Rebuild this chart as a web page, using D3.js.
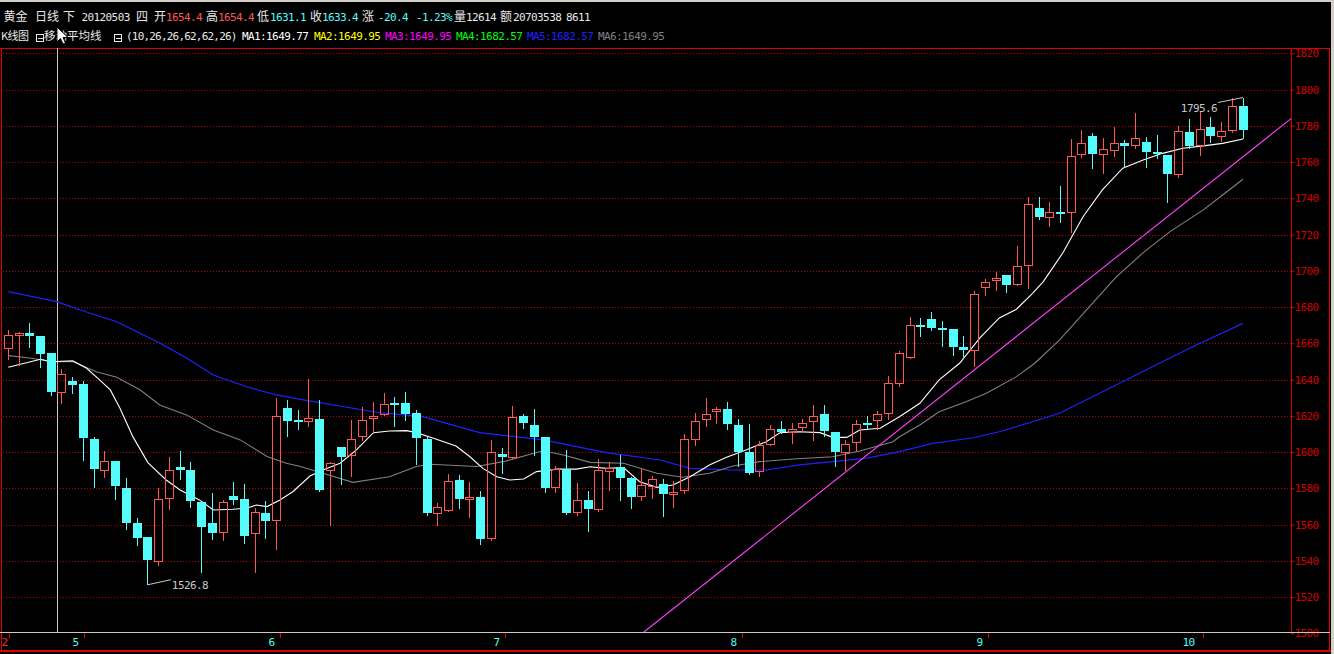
<!DOCTYPE html>
<html><head><meta charset="utf-8">
<script src="https://cdn.jsdelivr.net/npm/d3@7"></script>
<style>html,body{margin:0;padding:0;background:#000;overflow:hidden}</style>
</head><body>
<svg id="c" width="1334" height="654"></svg>
<script>
// ---------------- DATA ----------------
const opens  = [1657.6,1664.6,1665.7,1664.0,1654.4,1633.3,1639.2,1637.4,1607.0,1590.3,1594.9,1580.2,1560.7,1553.2,1539.7,1574.9,1591.8,1590.1,1572.5,1560.7,1555.9,1575.8,1573.9,1555.2,1566.2,1562.7,1624.3,1617.5,1616.9,1618.2,1590.0,1602.9,1598.3,1608.6,1618.7,1620.9,1627.0,1627.0,1621.3,1607.1,1566.1,1568.0,1584.7,1573.9,1575.0,1552.4,1598.9,1597.4,1620.0,1615.0,1608.4,1580.5,1590.6,1566.7,1573.5,1568.5,1589.3,1591.5,1585.6,1575.9,1581.4,1582.3,1576.8,1578.8,1607.1,1618.2,1622.4,1623.7,1615.0,1600.1,1589.3,1604.7,1612.6,1611.2,1613.6,1616.9,1620.9,1611.2,1599.8,1605.3,1616.0,1617.6,1621.5,1638.3,1652.2,1669.9,1673.4,1668.6,1667.9,1657.8,1656.3,1690.8,1694.9,1697.8,1692.7,1703.2,1734.4,1729.5,1732.2,1732.2,1764.4,1774.5,1764.7,1766.6,1770.4,1769.3,1771.2,1765.7,1764.0,1753.3,1776.7,1769.3,1779.1,1774.5,1777.6,1791.0];
const highs  = [1667.1,1666.2,1671.4,1664.0,1654.4,1645.6,1641.4,1639.2,1608.3,1600.6,1594.9,1585.5,1563.5,1553.2,1580.0,1597.3,1600.6,1594.5,1572.5,1577.4,1573.6,1583.5,1582.6,1569.3,1573.0,1630.0,1628.5,1623.0,1640.2,1628.6,1594.5,1602.9,1617.6,1624.6,1627.7,1632.5,1630.1,1633.2,1623.1,1608.1,1571.7,1587.8,1587.5,1583.2,1578.6,1606.8,1602.0,1625.5,1620.9,1624.0,1608.4,1592.4,1601.3,1582.9,1578.6,1596.1,1594.3,1598.5,1586.4,1591.1,1586.9,1585.1,1584.2,1610.1,1621.4,1629.6,1624.6,1627.7,1618.2,1615.4,1606.2,1614.9,1617.2,1616.0,1618.5,1625.9,1625.9,1611.2,1606.6,1617.6,1620.0,1622.8,1642.0,1656.0,1674.7,1673.8,1677.4,1672.5,1667.9,1664.2,1689.0,1695.4,1699.1,1697.8,1713.5,1740.8,1740.5,1737.7,1746.9,1772.6,1777.6,1776.3,1773.2,1779.4,1772.1,1787.0,1773.9,1775.0,1764.0,1780.0,1784.0,1788.3,1784.6,1782.2,1795.1,1795.6];
const lows   = [1650.8,1647.5,1657.6,1646.2,1631.1,1626.3,1632.2,1595.1,1580.4,1585.9,1573.4,1556.8,1548.2,1526.8,1537.2,1567.9,1584.6,1569.3,1533.5,1551.3,1550.9,1570.9,1549.4,1533.5,1552.2,1545.8,1608.5,1612.0,1613.6,1578.0,1559.3,1582.0,1586.4,1606.2,1609.9,1620.0,1613.9,1617.2,1592.8,1564.9,1559.3,1566.7,1568.5,1563.6,1548.7,1551.1,1587.8,1596.1,1612.6,1598.0,1577.4,1577.2,1565.4,1564.9,1555.7,1566.7,1578.6,1573.1,1568.5,1573.1,1574.0,1563.9,1569.4,1576.8,1603.3,1613.8,1615.4,1612.1,1591.9,1587.5,1586.4,1603.5,1609.9,1604.4,1610.8,1606.2,1608.1,1591.9,1589.7,1600.1,1612.1,1612.1,1617.6,1636.0,1651.3,1663.3,1667.0,1657.8,1653.2,1652.2,1646.7,1686.3,1688.6,1687.5,1691.8,1689.9,1728.0,1724.3,1726.1,1720.6,1762.5,1756.1,1753.3,1762.9,1756.7,1767.1,1756.7,1761.6,1737.2,1751.0,1767.1,1763.5,1770.4,1770.8,1776.3,1772.6];
const closes = [1664.4,1665.7,1663.8,1654.3,1633.4,1642.9,1637.2,1607.6,1590.8,1594.9,1581.5,1561.1,1552.8,1540.7,1573.9,1589.9,1590.1,1573.0,1558.9,1555.6,1572.5,1573.6,1553.9,1567.0,1562.0,1619.9,1617.1,1616.8,1618.7,1579.0,1593.7,1597.4,1607.1,1617.6,1620.0,1626.4,1626.6,1620.9,1607.5,1566.3,1569.8,1584.2,1573.9,1575.0,1552.0,1600.0,1597.0,1619.4,1615.8,1608.1,1579.9,1590.6,1566.3,1573.5,1568.5,1590.2,1591.1,1585.6,1575.0,1582.0,1585.1,1576.8,1578.1,1607.1,1617.0,1621.1,1623.7,1615.4,1600.1,1588.2,1603.8,1612.6,1610.8,1612.6,1616.3,1620.0,1611.4,1599.8,1604.7,1615.4,1615.4,1620.9,1638.0,1654.5,1670.1,1669.5,1668.2,1668.2,1657.8,1656.3,1687.2,1693.6,1696.0,1692.1,1702.8,1736.8,1729.5,1732.2,1731.7,1763.5,1770.4,1764.7,1767.1,1770.4,1768.6,1773.2,1765.3,1764.4,1753.3,1777.2,1768.6,1778.2,1774.1,1777.2,1791.0,1777.6];

// moving averages: [candle index, value]
const ma10 = [[0,1646.8],[3,1651.2],[4,1649.77],[6,1650.4],[7.3,1646.2],[8.5,1639.8],[9.5,1634.3],[10.4,1624.2],[11.6,1608.5],[13,1594.2],[14.7,1584.6],[16,1579.1],[17.8,1573.6],[19.1,1568.0],[20.9,1568.4],[22.2,1569.0],[23.1,1570.8],[24.1,1569.9],[25.3,1573.6],[26.5,1578.1],[28.1,1586.8],[29.3,1590.1],[30.9,1593.8],[32.4,1601.1],[34,1610.7],[35.5,1611.6],[37.1,1611.8],[38,1610.7],[39.6,1607.6],[41.7,1603.3],[43,1597.4],[44.2,1591.0],[45.5,1586.4],[46.7,1584.6],[48,1585.1],[49.2,1589.2],[51.1,1590.6],[52.9,1590.6],[54.2,1591.9],[55.7,1591.0],[57.3,1591.4],[58.8,1583.6],[60.4,1580.5],[61.9,1581.8],[63.5,1586.4],[65.3,1592.8],[66.9,1597.1],[68.7,1601.1],[70.6,1605.7],[71.9,1610.7],[73.7,1611.2],[75.6,1610.7],[76.8,1608.1],[78.1,1608.1],[79.3,1612.2],[81.2,1613.1],[83,1619.5],[84.9,1626.9],[86.7,1639.8],[88.6,1649.0],[90.5,1663.0],[92.3,1674.0],[93.9,1678.8],[95.4,1687.6],[96.4,1694.0],[98.2,1709.7],[100.1,1729.8],[101.9,1744.6],[103.8,1756.6],[105.7,1761.1],[107.5,1764.8],[109.4,1767.6],[111.3,1768.9],[113.1,1770.3],[115,1772.7]];
const ma26 = [[0,1653.2],[2,1651.9],[4,1649.95],[6,1649.9],[8.2,1644.3],[10.1,1641.3],[12.3,1634.2],[14.1,1626.0],[16.6,1620.5],[19.1,1612.2],[21.6,1606.7],[24.1,1597.5],[25.9,1593.8],[27.2,1592.0],[29.3,1588.3],[32.1,1583.3],[35.5,1586.4],[38,1592.0],[39.3,1593.3],[43.6,1592.0],[46.1,1594.7],[49.8,1600.7],[51.7,1598.4],[54.2,1594.3],[57.3,1593.8],[60.4,1588.3],[62.8,1586.1],[65.3,1588.3],[67.5,1592.3],[70,1594.7],[73.1,1596.2],[76.8,1597.4],[79.3,1600.6],[82.4,1605.7],[83,1608.4],[84.9,1614.9],[86.7,1622.2],[89.2,1627.8],[91.1,1632.4],[93.9,1641.6],[95.6,1649.0],[97.9,1661.8],[100.7,1680.2],[103.2,1696.7],[105.7,1710.0],[108.2,1721.6],[111.3,1733.6],[113.1,1741.8],[115,1750.5]];
const ma62 = [[0,1688.5],[4.5,1683.0],[6.7,1678.4],[10.1,1671.9],[14.1,1660.2],[16.6,1651.9],[19.1,1642.5],[22.2,1636.0],[25,1631.5],[27.2,1629.1],[34.6,1621.7],[38.6,1619.5],[43.9,1610.7],[49.8,1606.7],[55.7,1599.7],[60.7,1595.6],[63.5,1591.0],[67.5,1590.1],[70.6,1590.1],[73.7,1592.9],[76.8,1594.7],[80,1596.6],[83,1600.2],[86.1,1604.8],[89.9,1607.9],[92.3,1611.2],[95.4,1616.7],[97.9,1621.4],[104.1,1639.8],[107.2,1649.0],[111,1660.0],[115,1671.0]];
const trendLine = [[59.2,1500.7],[119.5,1784.1]];

const yTicks = [1500,1520,1540,1560,1580,1600,1620,1640,1660,1680,1700,1720,1740,1760,1780,1800,1820];
const monthLabels = ["2","5","6","7","8","9","10"];
const monthIndex  = [0,7,25.2,46.2,68.2,91.2,111.2];

const maNames  = ["MA1","MA2","MA3","MA4","MA5","MA6"];
const maValues = ["1649.77","1649.95","1649.95","1682.57","1682.57","1649.95"];
const maParams = "(10,26,26,62,62,26)";

// ---------------- STYLE ----------------
const UP = "#ff5656", DOWN = "#54fcfc", GRID = "#c00000", AXIS = "#d00000";
const MONO = "'DejaVu Sans Mono', monospace";
const CJK = "'Noto Sans CJK SC', sans-serif";
const maColors = ["#ffffff","#ffff00","#ff00ff","#00ff00","#2020ff","#808080"];

const svg = d3.select("#c");
svg.append("rect").attr("width",1334).attr("height",654).attr("fill","#000");

const N = opens.length;
const L = 3, R = 1291, T = 48, B = 632;
const x = d3.scaleLinear().domain([0, N-1]).range([8.3, 1243]);
const y = d3.scaleLinear().domain([1500, 1820]).range([633.3, 53.3]);

// frame
svg.append("rect").attr("x",0).attr("y",0).attr("width",1334).attr("height",2).attr("fill","#d4d0c8");
svg.append("rect").attr("x",1331).attr("y",0).attr("width",3).attr("height",654).attr("fill","#d4d0c8");
svg.append("line").attr("x1",0).attr("x2",1330).attr("y1",T+0.5).attr("y2",T+0.5).attr("stroke","#e00000");
svg.append("line").attr("x1",1.5).attr("x2",1.5).attr("y1",T).attr("y2",651).attr("stroke","#e00000");
svg.append("line").attr("x1",1329.5).attr("x2",1329.5).attr("y1",T).attr("y2",651).attr("stroke","#e00000");
svg.append("rect").attr("x",0).attr("y",650).attr("width",1331).attr("height",2).attr("fill","#e00000");

// grid + right axis
const yAxis = d3.axisRight(y).tickValues(yTicks).tickSize(3).tickFormat(d3.format("d"));
svg.append("g").selectAll("line.grid").data(yTicks.filter(v => v > 1500)).join("line")
  .attr("x1", L).attr("x2", R)
  .attr("y1", d => Math.round(y(d)) + 0.5).attr("y2", d => Math.round(y(d)) + 0.5)
  .attr("stroke", GRID).attr("stroke-dasharray","1,2");
const ga = svg.append("g").attr("transform", `translate(${R+0.5},0)`).call(yAxis);
ga.select(".domain").attr("d", `M0,${T}V${B+2}`).attr("stroke", AXIS);
ga.selectAll(".tick line").attr("stroke", AXIS);
ga.selectAll(".tick text").attr("fill", AXIS).attr("x", 3).attr("font-family", MONO)
  .attr("font-size", 11).attr("letter-spacing", -0.6);

// bottom axis
svg.append("line").attr("x1",0).attr("x2",1330).attr("y1",B+0.5).attr("y2",B+0.5).attr("stroke","#c8c8c8");
const mg = svg.append("g");
monthLabels.forEach((lab, k) => {
  const tx = Math.round(x(monthIndex[k]) + 1) + 0.5;
  mg.append("line").attr("x1",tx).attr("x2",tx).attr("y1",B+1).attr("y2",B+6).attr("stroke","#e00000");
  const endX = Math.max(tx - (lab.length > 1 ? 9 : 6), 7.5);
  mg.append("text").attr("x", endX).attr("y", 646).attr("text-anchor","end")
    .attr("fill", k === 0 ? "#ff3030" : DOWN).attr("font-family", MONO).attr("font-size", 11)
    .attr("letter-spacing", -0.6).text(lab);
});

// clip
svg.append("clipPath").attr("id","plot").append("rect").attr("x",L).attr("y",T+1).attr("width",R-L).attr("height",B-T-1);

// crosshair vertical line
svg.append("line").attr("x1", Math.round(x(4.5))+0.5).attr("x2", Math.round(x(4.5))+0.5)
  .attr("y1", T).attr("y2", B).attr("stroke","#c8c8c8");

// moving averages
const line = d3.line().x(d => x(d[0])).y(d => y(d[1])).curve(d3.curveLinear);
const mag = svg.append("g").attr("clip-path","url(#plot)").attr("fill","none");
mag.append("path").datum(ma62).attr("d", line).attr("stroke", "#2020ff").attr("stroke-width",1.2);
mag.append("path").datum(ma26).attr("d", line).attr("stroke", "#808080").attr("stroke-width",1.1);
mag.append("path").datum(ma10).attr("d", line).attr("stroke", "#ffffff").attr("stroke-width",1.1);
mag.append("path").datum(trendLine).attr("d", line).attr("stroke", "#ff40ff").attr("stroke-width",1.1);

// candles
const cg = svg.append("g").attr("shape-rendering","crispEdges");
d3.range(N).forEach(i => {
  const o = opens[i], h = highs[i], l = lows[i], c = closes[i];
  const cx = x(i);
  const left = Math.round(cx - 4.5);
  const wx = left + 4.5;
  const yt = Math.round(y(Math.max(o, c))), yb = Math.round(y(Math.min(o, c)));
  const yh = Math.round(y(h)), yl = Math.round(y(l));
  if (c > o) {
    cg.append("line").attr("x1",wx).attr("x2",wx).attr("y1",yh).attr("y2",yt).attr("stroke",UP);
    cg.append("line").attr("x1",wx).attr("x2",wx).attr("y1",yb).attr("y2",yl).attr("stroke",UP);
    cg.append("rect").attr("x",left+0.5).attr("y",yt+0.5).attr("width",8).attr("height",Math.max(1,yb-yt))
      .attr("fill","none").attr("stroke",UP);
  } else {
    cg.append("line").attr("x1",wx).attr("x2",wx).attr("y1",yh).attr("y2",yl).attr("stroke",DOWN);
    cg.append("rect").attr("x",left).attr("y",yt).attr("width",9).attr("height",Math.max(2,yb-yt)).attr("fill",DOWN);
  }
});

// extreme labels
const iMax = d3.maxIndex(highs), iMin = d3.minIndex(lows);
const ann = svg.append("g").attr("fill","none").attr("stroke","#c8c8c8");
const hx = x(iMax), hy = y(highs[iMax]);
ann.append("path").attr("d", `M${hx},${hy}L${hx-25},${hy+5}`);
svg.append("text").attr("x", hx-26).attr("y", hy+14).attr("text-anchor","end").attr("fill","#c8c8c8")
  .attr("font-family",MONO).attr("font-size",11).attr("letter-spacing",-0.6).text(d3.format(".1f")(highs[iMax]));
const lx = x(iMin), ly = y(lows[iMin]);
ann.append("path").attr("d", `M${lx},${ly}L${lx+23},${ly-5}`);
svg.append("text").attr("x", lx+24).attr("y", ly+4).attr("fill","#c8c8c8")
  .attr("font-family",MONO).attr("font-size",11).attr("letter-spacing",-0.6).text(d3.format(".1f")(lows[iMin]));

// header row 1
const W = "#e8e8e8";
const row1 = [
  ["黄金",W,3.5,CJK],["日线",W,35,CJK],["下",W,63,CJK],["20120503",W,81.5,MONO],["四",W,136,CJK],
  ["开",W,154,CJK],["1654.4",UP,166,MONO],["高",W,206,CJK],["1654.4",UP,218,MONO],
  ["低",W,257,CJK],["1631.1",DOWN,270,MONO],["收",W,310,CJK],["1633.4",DOWN,322,MONO],
  ["涨",W,362,CJK],["-20.4",DOWN,378,MONO],["-1.23%",DOWN,416,MONO],["量",W,454,CJK],["12614",W,466,MONO],
  ["额",W,500,CJK],["20703538",W,513,MONO],["8611",W,566,MONO]
];
row1.forEach(([t,col,px,f]) => {
  svg.append("text").attr("x",px).attr("y",21).attr("fill",col).attr("font-family",f)
    .attr("font-size", f===CJK?12:11).attr("letter-spacing", f===CJK?0:-0.6).text(t);
});

// header row 2
svg.append("text").attr("x",1).attr("y",40).attr("fill",W).attr("font-family",CJK).attr("font-size",11)
  .attr("letter-spacing",-0.5).text("K线图");
const box = (bx) => {
  svg.append("rect").attr("x",bx+0.5).attr("y",34.5).attr("width",7).attr("height",7).attr("fill","none").attr("stroke",W);
  svg.append("line").attr("x1",bx+2).attr("x2",bx+7).attr("y1",38.5).attr("y2",38.5).attr("stroke",W);
};
box(36); box(114);
svg.append("text").attr("x",44).attr("y",40).attr("fill",W).attr("font-family",CJK).attr("font-size",11.5).text("移动平均线");
svg.append("text").attr("x",126).attr("y",40).attr("fill",W).attr("font-family",MONO).attr("font-size",11).attr("letter-spacing",-0.8).text(maParams);
const maX = [242, 314, 385, 456, 527, 598];
maNames.forEach((n,k) => {
  svg.append("text").attr("x",maX[k]).attr("y",40).attr("fill",maColors[k]).attr("font-family",MONO)
    .attr("font-size",11).attr("letter-spacing",-0.6).text(n + ":" + maValues[k]);
});

// mouse cursor
svg.append("path").attr("transform","translate(57,27)")
  .attr("d","M0,0L0,15L3.5,11.5L6,17L8.5,16L6,10.5L11,10.5Z")
  .attr("fill","#fff").attr("stroke","#000").attr("stroke-width",1);
</script>
</body></html>
